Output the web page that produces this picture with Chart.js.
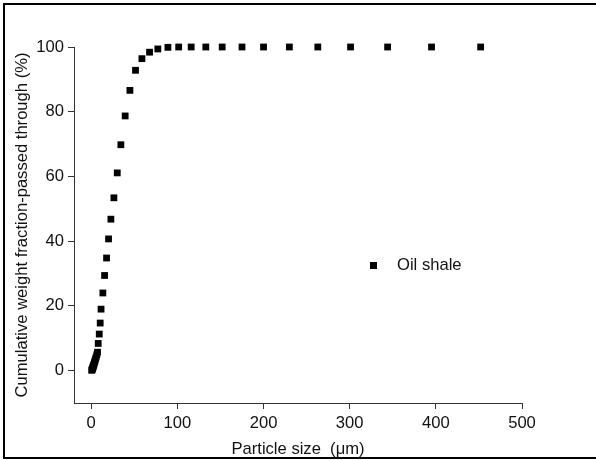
<!DOCTYPE html>
<html>
<head>
<meta charset="utf-8">
<script src="https://cdn.jsdelivr.net/npm/chart.js@4/dist/chart.umd.min.js"></script>
<style>
body{margin:0;background:#fff}
</style>
</head>
<body>
<canvas id="mainChart" width="596" height="460"></canvas>
<script>
// ================= DATA =================
let sizes = [0.6,1.0,1.4,1.8,2.2,2.7,3.2,3.7,4.3,5.0,5.7,6.5,7.3,8.1,9.3,10.4,11.4,13.5,15.5,17.8,20.1,22.8,26.3,30.2,34.4,39.4,44.9,51.4,58.8,67.7,77.3,89,101.5,116,133,152,175,200,230,263,301,344,395,452]
let passed = [0.1,0.3,0.6,0.9,1.2,1.6,2.0,2.5,3.0,3.6,4.2,4.9,5.7,8.4,11.3,14.7,19.0,24.0,29.4,34.8,40.7,46.8,53.4,61.1,69.8,78.7,86.6,92.8,96.4,98.4,99.4,99.9,100,100,100,100,100,100,100,100,100,100,100,100]
let xTicks = [0,100,200,300,400,500]
let yTicks = [0,20,40,60,80,100]
let seriesName = "Oil shale"

let FONT = "'Liberation Sans', Arial, sans-serif"
let FS = 16.6
let AXIS = "#333"

// ================= PLUGINS =================
// legend inside the plot + frame lines round the figure
let extras = {
id:"extras",
afterDraw(chart){
let ctx = chart.ctx
let a = chart.chartArea
let ds = chart.data.datasets[0]

ctx.save()
let lx = a.left + 299
let ly = a.top + 218
ctx.fillStyle = "#000"
ctx.fillRect(lx-3, ly-3, 7, 7)
ctx.font = FS + "px " + FONT
ctx.textBaseline = "middle"
ctx.fillStyle = "#111"
ctx.fillText(ds.label, lx+24, ly)

ctx.strokeStyle = "#000"
ctx.lineWidth = 2
ctx.beginPath()
ctx.moveTo(596,4)
ctx.lineTo(4,4)
ctx.lineTo(4,458)
ctx.lineTo(596,458)
ctx.stroke()
ctx.restore()
}
}

// ================= CHART =================
let pts = sizes.map((s,i)=>({x:s, y:passed[i]}))

new Chart(document.getElementById("mainChart"),{
type:"scatter",
data:{
datasets:[{
label:seriesName,
data:pts,
clip:false,
pointStyle:"rect",
pointRadius:4.8,
pointHoverRadius:4.8,
pointBorderWidth:0,
backgroundColor:"#000",
borderColor:"#000"
}]
},
options:{
responsive:false,
animation:false,
layout:{padding:{top:47,right:74,left:0,bottom:0}},
plugins:{legend:{display:false},tooltip:{enabled:false}},
scales:{
x:{
type:"linear",
min:-20,
max:500,
afterBuildTicks(s){ s.ticks = xTicks.map(v=>({value:v})) },
afterFit(s){ s.height = 57 },
grid:{display:true,drawOnChartArea:false,drawTicks:true,tickLength:6,color:AXIS},
border:{display:true,color:AXIS,width:1},
ticks:{color:"#111",padding:4,font:{family:FONT,size:FS}},
title:{display:true,text:"Particle size  (μm)",color:"#111",font:{family:FONT,size:FS},padding:{top:0,bottom:1}}
},
y:{
type:"linear",
min:-10,
max:100,
afterBuildTicks(s){ s.ticks = yTicks.map(v=>({value:v})) },
afterFit(s){ s.width = 74 },
grid:{display:true,drawOnChartArea:false,drawTicks:true,tickLength:6,color:AXIS},
border:{display:true,color:AXIS,width:1},
ticks:{color:"#111",padding:4,font:{family:FONT,size:FS}},
title:{display:true,text:"Cumulative weight fraction-passed through (%)",color:"#111",font:{family:FONT,size:FS},padding:{top:12,bottom:0}}
}
}
},
plugins:[extras]
})
</script>
</body>
</html>
